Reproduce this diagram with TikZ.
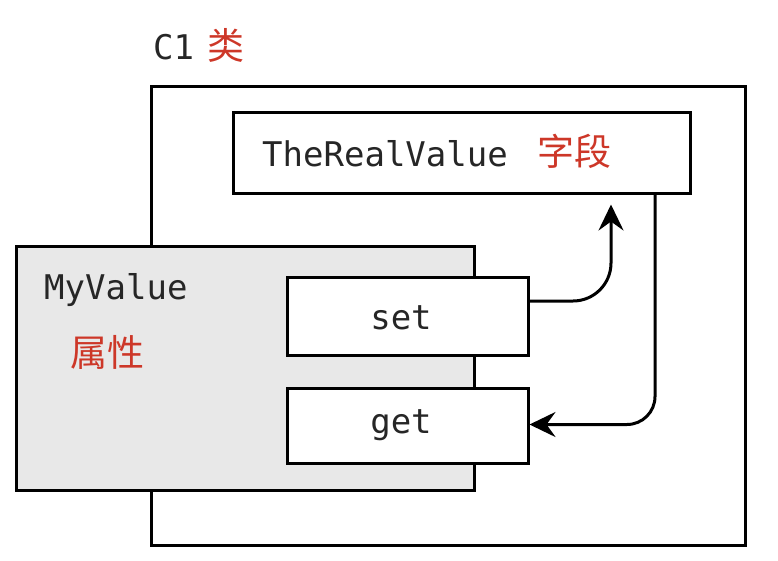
\documentclass[tikz,border=0pt]{standalone}
\usepackage{fontspec}
\setmonofont{DejaVu Sans Mono}
\newfontfamily\cjk{Noto Sans CJK SC}
\usetikzlibrary{arrows.meta}
\definecolor{lblred}{RGB}{205,55,40}
\definecolor{propgray}{RGB}{232,232,232}
\tikzset{
  box/.style={draw=black, line width=3pt, inner sep=0pt, fill=white},
  monotxt/.style={font=\ttfamily\fontsize{34}{40}\selectfont, inner sep=0pt, text=black!85},
  cjktxt/.style={font=\cjk\fontsize{37}{44}\selectfont, inner sep=0pt, text=lblred},
  arr/.style={draw=black, line width=3pt, -{Stealth[length=26pt,width=25pt,inset=9pt]}}
}
\begin{document}
\begin{tikzpicture}[x=1pt,y=-1pt]
\useasboundingbox (0,0) rectangle (778,560);
% outer class box
\node[box, minimum width=594pt, minimum height=459pt] (outer) at (448,315.5) {};
\node[monotxt, anchor=west] (c1) at (153,47) {C1};
\node[cjktxt, anchor=west] (lei) at (207,45) {类};
% field box
\node[box, minimum width=457pt, minimum height=81pt] (field) at (461.5,152.5) {};
\node[monotxt, anchor=west] (ftxt) at (262,154) {TheRealValue};
\node[cjktxt, anchor=west] (fcjk) at (537,151) {字段};
% property box
\node[box, fill=propgray, minimum width=458pt, minimum height=244pt] (prop) at (245,368) {};
\node[monotxt, anchor=west] (ptxt) at (44,290) {MyValue};
\node[cjktxt, anchor=west] (pcjk) at (70,352) {属性};
% set / get boxes
\node[box, minimum width=241pt, minimum height=78pt] (setb) at (407.5,316) {};
\node[monotxt] (stxt) at (401,318) {set};
\node[box, minimum width=241pt, minimum height=75pt] (getb) at (407.5,425.5) {};
\node[monotxt] (gtxt) at (401,425) {get};
% arrows
\draw[arr, rounded corners=38pt] ([yshift=15pt]setb.east) -| ([xshift=149.5pt,yshift=-10pt]field.south);
\draw[arr, rounded corners=28pt] ([xshift=193.5pt]field.south) |- ([yshift=1pt]getb.east);
\end{tikzpicture}
\end{document}
